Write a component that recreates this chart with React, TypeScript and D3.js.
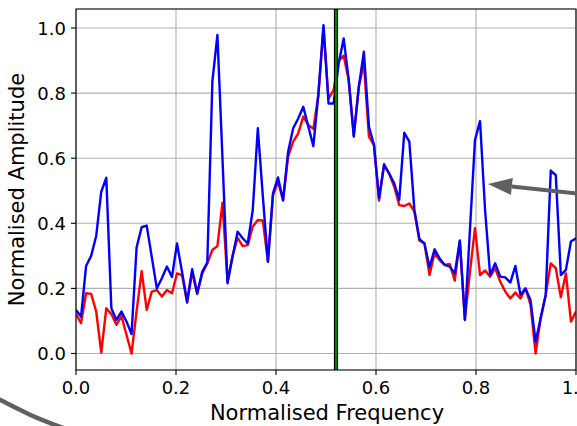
import React from 'react';
import * as d3 from 'd3';

const WIDTH = 577;
const HEIGHT = 426;

// Normalised frequency grid: 100 evenly spaced samples from 0 to 1
const SAMPLE_COUNT = 100;
const frequency = d3.range(SAMPLE_COUNT).map((i) => i / (SAMPLE_COUNT - 1));

// Blue spectrum (normalised amplitude)
const amplitudeBlue = [
  0.134, 0.113, 0.269, 0.300, 0.361, 0.497, 0.540, 0.139, 0.103, 0.129,
  0.098, 0.060, 0.326, 0.388, 0.393, 0.297, 0.200, 0.231, 0.267, 0.235,
  0.338, 0.250, 0.159, 0.259, 0.185, 0.252, 0.279, 0.835, 0.979, 0.600,
  0.216, 0.298, 0.374, 0.354, 0.338, 0.441, 0.692, 0.482, 0.282, 0.492,
  0.541, 0.470, 0.620, 0.692, 0.722, 0.758, 0.697, 0.637, 0.799, 1.009,
  0.768, 0.768, 0.890, 0.968, 0.840, 0.666, 0.820, 0.927, 0.697, 0.640,
  0.477, 0.579, 0.553, 0.523, 0.472, 0.678, 0.651, 0.441, 0.351, 0.338,
  0.265, 0.320, 0.292, 0.272, 0.267, 0.246, 0.347, 0.103, 0.380, 0.656,
  0.714, 0.440, 0.241, 0.277, 0.236, 0.234, 0.218, 0.269, 0.180, 0.200,
  0.164, 0.036, 0.108, 0.180, 0.562, 0.548, 0.241, 0.257, 0.344, 0.354,
];

// Red spectrum (normalised amplitude)
const amplitudeRed = [
  0.121, 0.093, 0.185, 0.183, 0.129, 0.003, 0.139, 0.121, 0.088, 0.115,
  0.057, 0.000, 0.130, 0.253, 0.134, 0.190, 0.195, 0.175, 0.195, 0.185,
  0.246, 0.241, 0.156, 0.250, 0.183, 0.246, 0.277, 0.318, 0.330, 0.463,
  0.221, 0.300, 0.355, 0.330, 0.333, 0.390, 0.410, 0.408, 0.282, 0.485,
  0.528, 0.472, 0.605, 0.651, 0.676, 0.728, 0.702, 0.690, 0.795, 1.000,
  0.783, 0.809, 0.900, 0.915, 0.840, 0.670, 0.820, 0.891, 0.666, 0.640,
  0.470, 0.582, 0.553, 0.513, 0.456, 0.453, 0.461, 0.436, 0.347, 0.338,
  0.241, 0.308, 0.287, 0.272, 0.275, 0.224, 0.345, 0.105, 0.250, 0.385,
  0.241, 0.255, 0.236, 0.262, 0.221, 0.190, 0.169, 0.187, 0.169, 0.200,
  0.149, 0.000, 0.108, 0.180, 0.277, 0.262, 0.173, 0.246, 0.098, 0.129,
];

const xTicks = [0, 0.2, 0.4, 0.6, 0.8, 1.0];
const yTicks = [0, 0.2, 0.4, 0.6, 0.8, 1.0];
const xTickLabels = ['0.0', '0.2', '0.4', '0.6', '0.8', '1.0'];
const yTickLabels = ['0.0', '0.2', '0.4', '0.6', '0.8', '1.0'];

// Centre frequency marker
const markerFrequency = 0.52;

// Annotation arrow (tip, tail) and partial curved pointer, in data units
const arrowTip: [number, number] = [0.824, 0.521];
const arrowTail: [number, number] = [1.1, 0.475];
const pointerCurve: [number, number][] = [
  [-0.175, -0.124],
  [-0.092, -0.188],
  [-0.02, -0.232],
];

const FONT = "'DejaVu Sans', 'Liberation Sans', sans-serif";

export default function App() {
  const left = 76;
  const right = 576;
  const top = 9;
  const bottom = 370;

  const x = d3.scaleLinear().domain([0, 1]).range([left, right]);
  const y = d3.scaleLinear().domain([-0.0507, 1.0584]).range([bottom, top]);

  const line = d3
    .line<number>()
    .x((_, i) => x(frequency[i]))
    .y((d) => y(d));

  const curve = d3
    .line<[number, number]>()
    .x((d) => x(d[0]))
    .y((d) => y(d[1]))
    .curve(d3.curveNatural);

  // Arrow geometry
  const tipX = x(arrowTip[0]);
  const tipY = y(arrowTip[1]);
  const tailX = x(arrowTail[0]);
  const tailY = y(arrowTail[1]);
  const ang = Math.atan2(tailY - tipY, tailX - tipX);
  const headLen = 24;
  const headHalf = 8.5;
  const bx = tipX + headLen * Math.cos(ang);
  const by = tipY + headLen * Math.sin(ang);
  const nx = -Math.sin(ang);
  const ny = Math.cos(ang);
  const head = `M${tipX},${tipY}L${bx + nx * headHalf},${by + ny * headHalf}L${bx - nx * headHalf},${by - ny * headHalf}Z`;

  const tickFont = 18;
  const labelFont = 21;

  return (
    <svg
      width={WIDTH}
      height={HEIGHT}
      style={{ position: 'absolute', left: 0, top: 0, background: '#fff' }}
      fontFamily={FONT}
    >
      <defs>
        <clipPath id="plot-area">
          <rect x={left} y={top} width={right - left} height={bottom - top} />
        </clipPath>
      </defs>
      <rect x={0} y={0} width={WIDTH} height={HEIGHT} fill="#fff" />

      {/* grid */}
      <g stroke="#b0b0b0" strokeWidth={1.1}>
        {xTicks.map((t) => (
          <line key={`gx${t}`} x1={x(t)} x2={x(t)} y1={top} y2={bottom} />
        ))}
        {yTicks.map((t) => (
          <line key={`gy${t}`} x1={left} x2={right} y1={y(t)} y2={y(t)} />
        ))}
      </g>

      {/* spectra */}
      <g clipPath="url(#plot-area)" fill="none" strokeLinejoin="round" strokeLinecap="butt">
        <path d={line(amplitudeRed) ?? ''} stroke="#ff0000" strokeWidth={2.4} />
        <path d={line(amplitudeBlue) ?? ''} stroke="#0000ff" strokeWidth={2.4} />
        <line
          x1={x(markerFrequency)}
          x2={x(markerFrequency)}
          y1={top}
          y2={bottom}
          stroke="#000"
          strokeWidth={4.2}
        />
        <line
          x1={x(markerFrequency)}
          x2={x(markerFrequency)}
          y1={top}
          y2={bottom}
          stroke="#008000"
          strokeWidth={2}
        />
      </g>

      {/* spines */}
      <rect
        x={left}
        y={top}
        width={right - left}
        height={bottom - top}
        fill="none"
        stroke="#000"
        strokeWidth={1.1}
      />

      {/* ticks */}
      <g stroke="#000" strokeWidth={1.1}>
        {xTicks.map((t) => (
          <line key={`tx${t}`} x1={x(t)} x2={x(t)} y1={bottom} y2={bottom + 5} />
        ))}
        {yTicks.map((t) => (
          <line key={`ty${t}`} x1={left - 5} x2={left} y1={y(t)} y2={y(t)} />
        ))}
      </g>

      <g fontSize={tickFont} fill="#000">
        {xTicks.map((t, i) => (
          <text key={`lx${t}`} x={x(t)} y={bottom + 24} textAnchor="middle">
            {xTickLabels[i]}
          </text>
        ))}
        {yTicks.map((t, i) => (
          <text key={`ly${t}`} x={left - 10} y={y(t) + 6.5} textAnchor="end">
            {yTickLabels[i]}
          </text>
        ))}
      </g>

      <text
        x={(left + right) / 2 + 1}
        y={420}
        textAnchor="middle"
        fontSize={labelFont}
        fill="#000"
      >
        Normalised Frequency
      </text>
      <text
        transform={`translate(24, ${(top + bottom) / 2}) rotate(-90)`}
        textAnchor="middle"
        fontSize={labelFont}
        fill="#000"
      >
        Normalised Amplitude
      </text>

      {/* annotation pointers */}
      <g fill="none" stroke="#606060">
        <line x1={bx} y1={by} x2={tailX} y2={tailY} strokeWidth={4} />
        <path d={curve(pointerCurve) ?? ''} strokeWidth={4.5} />
      </g>
      <path d={head} fill="#606060" />
    </svg>
  );
}
